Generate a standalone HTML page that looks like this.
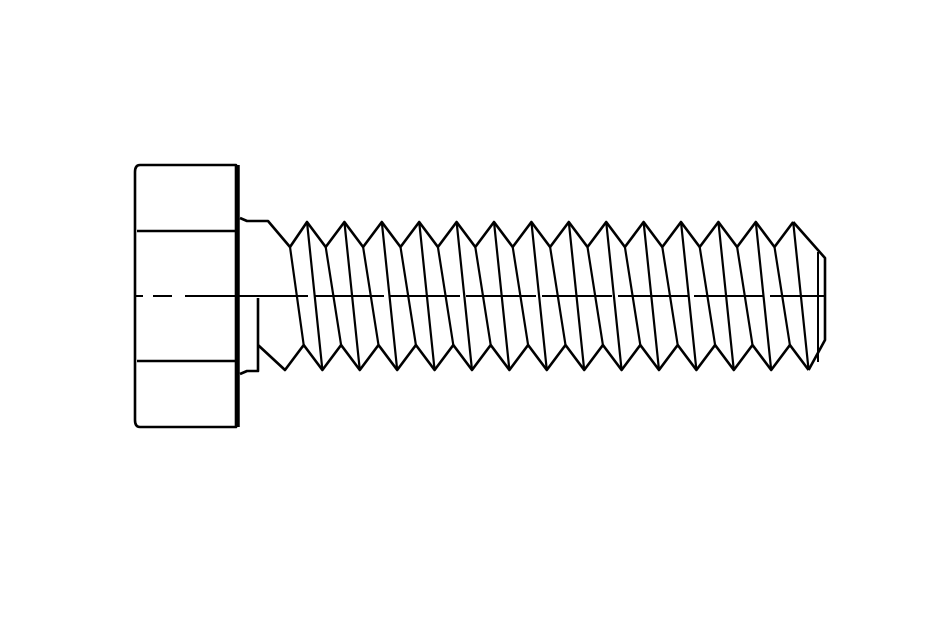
<!DOCTYPE html>
<html><head><style>html,body{margin:0;padding:0;background:#fff}svg{display:block}</style></head>
<body>
<svg width="938" height="626" viewBox="0 0 938 626" xmlns="http://www.w3.org/2000/svg">
<g fill="none" stroke="#000" stroke-width="2.6" stroke-linejoin="round">
<path d="M140,165 L236,165 L236,427 L140,427 Q135,427 135,420 L135,172 Q135,165 140,165 Z"/>
<line x1="238" y1="165" x2="238" y2="427" stroke-width="3.5"/>
<line x1="137" y1="231" x2="236" y2="231"/>
<line x1="137" y1="361" x2="236" y2="361"/>
<path d="M240,218 L247,221 L268,221 L290,247"/>
<path d="M240,374 L247,371 L258,371 L258,298"/>
<path d="M290,247 L307,222 L325.7,247 L344.4,222 L363.1,247 L381.8,222 L400.5,247 L419.2,222 L437.9,247 L456.6,222 L475.3,247 L494,222 L512.7,247 L531.4,222 L550.1,247 L568.8,222 L587.5,247 L606.2,222 L624.9,247 L643.6,222 L662.3,247 L681,222 L699.7,247 L718.4,222 L737.1,247 L755.8,222 L774.5,247 L793.2,222"/>
<path d="M258,345 L285,370 L303.7,345 L322.4,370 L341.1,345 L359.8,370 L378.5,345 L397.2,370 L415.9,345 L434.6,370 L453.3,345 L472,370 L490.7,345 L509.4,370 L528.1,345 L546.8,370 L565.5,345 L584.2,370 L602.9,345 L621.6,370 L640.3,345 L659,370 L677.7,345 L696.4,370 L715.1,345 L733.8,370 L752.5,345 L771.2,370 L789.9,345 L808.6,370"/>
<g stroke-width="2.2">
<path d="M307,222 L322.4,370 M344.4,222 L359.8,370 M381.8,222 L397.2,370 M419.2,222 L434.6,370 M456.6,222 L472,370 M494,222 L509.4,370 M531.4,222 L546.8,370 M568.8,222 L584.2,370 M606.2,222 L621.6,370 M643.6,222 L659,370 M681,222 L696.4,370 M718.4,222 L733.8,370 M755.8,222 L771.2,370 M793.2,222 L808.6,370"/>
<path d="M290,247 L303.7,345 M325.7,247 L341.1,345 M363.1,247 L378.5,345 M400.5,247 L415.9,345 M437.9,247 L453.3,345 M475.3,247 L490.7,345 M512.7,247 L528.1,345 M550.1,247 L565.5,345 M587.5,247 L602.9,345 M624.9,247 L640.3,345 M662.3,247 L677.7,345 M699.7,247 L715.1,345 M737.1,247 L752.5,345 M774.5,247 L789.9,345"/>
</g>
<path d="M793.2,222 L825,258 L825,340 L808.6,370"/>
<line x1="818" y1="252" x2="818" y2="362" stroke-width="2"/>
<path d="M135,296 L143,296 M153,296 L172,296 M185,296 L236,296" stroke-width="2"/>
<line x1="238" y1="296" x2="825" y2="296" stroke-width="2" stroke-dasharray="70,6"/>
</g>
</svg>
</body></html>
